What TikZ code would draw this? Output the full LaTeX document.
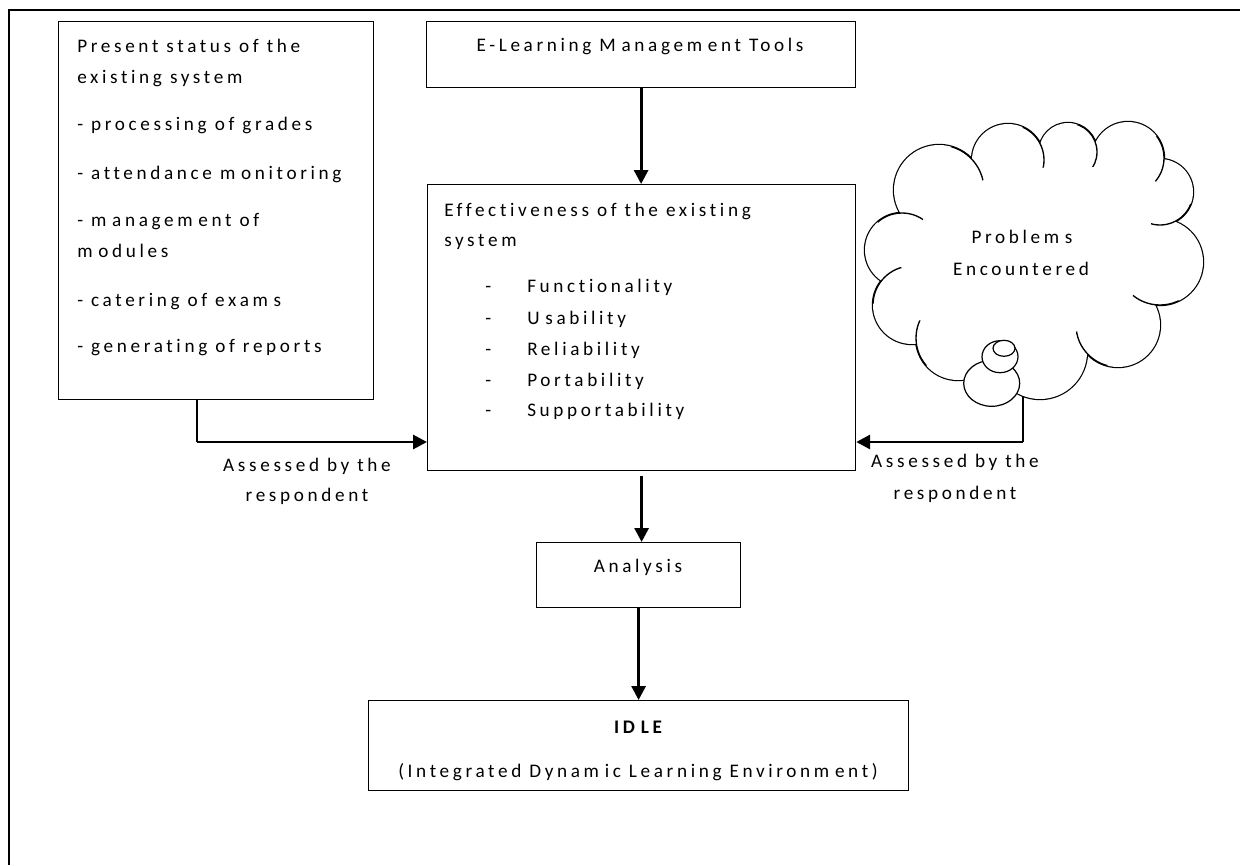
\documentclass[tikz,border=0pt]{standalone}
\usepackage{fontspec}
\setmainfont{Carlito}[LetterSpace=19, Ligatures={NoCommon,NoRare,NoContextual}]
\usetikzlibrary{arrows.meta}
\newcommand\sk{\kern0.3em}
\begin{document}
\begin{tikzpicture}[x=0.75pt,y=-0.75pt,
  box/.style={draw, line width=0.9pt, inner sep=0pt, anchor=north west},
  txt/.style={inner sep=0pt, anchor=base west, font=\fontsize{14.4}{17}\selectfont},
  ctxt/.style={inner sep=0pt, anchor=base, font=\fontsize{14.4}{17}\selectfont},
  flow/.style={line width=2.2pt, -{Triangle[length=10.5pt,width=10.5pt]}},
  thinline/.style={line width=0.9pt},
  puff/.style={line width=1.8pt},
  bubble/.style={draw, fill=white, line width=0.9pt}
]
\useasboundingbox (0,0) rectangle (1240,865);
% outer frame
\draw[line width=2.2pt] (9,865) -- (9,10) -- (1240,10);

% boxes
\node[box, minimum width=236.25pt, minimum height=283.5pt] (status) at (58,21) {};
\node[box, minimum width=321.75pt, minimum height=49.5pt] (elm) at (426,21) {};
\node[box, minimum width=321pt, minimum height=214.5pt] (eff) at (427,184) {};
\node[box, minimum width=153pt, minimum height=48.75pt] (ana) at (536,542) {};
\node[box, minimum width=405pt, minimum height=67.5pt] (idle) at (368,700) {};

% status text
\node[txt] (s1) at (77,52.5) {Present status of the};
\node[txt] (s2) at (77,83.5) {existing system};
\node[txt] (s3) at (77,130.5) {- processing of grades};
\node[txt] (s4) at (77,179.5) {- attendance m\sk onitoring};
\node[txt] (s5) at (77,226.5) {- m\sk anagem\sk ent of};
\node[txt] (s6) at (77,257.5) {m\sk odules};
\node[txt] (s7) at (77,306.5) {- catering of exam\sk s};
\node[txt] (s8) at (77,352.5) {- generating of reports};

% elm text
\node[ctxt] (elmt) at (640,51) {E-Learning M\sk anagem\sk ent Tools};

% effectiveness text
\node[txt] (e1) at (444,216.5) {Effectiveness of the existing};
\node[txt] (e2) at (444,246.5) {system};
\foreach \n/\y/\t in {f1/292.5/Functionality, f2/324.5/U\sk sability, f3/355.5/Reliability, f4/386.5/Portability, f5/416.5/Supportability}{
  \node[txt] (d\n) at (485,\y) {-};
  \node[txt] (\n) at (527,\y) {\t};
}

% analysis / idle text
\node[ctxt] (anat) at (638,572.5) {Analysis};
\node[ctxt, font=\fontsize{14.4}{17}\selectfont\bfseries] (idlet) at (638,733) {ID\sk LE};
\node[ctxt] (idlet2) at (638,777) {(Integrated Dynam\sk ic Learning Environm\sk ent)};

% cloud
\def\puffs{(902,250) circle[radius=37] (912,305) circle[radius=39] (958,338) circle[radius=42]
  (1040,352) circle[radius=47] (1118,325) circle[radius=42] (1160,262) circle[radius=43]
  (1160,192) circle[radius=33] (1128,158) circle[radius=36] (1068,152) circle[radius=29]
  (1008,160) circle[radius=36] (939,190) circle[radius=45]}
\draw[puff] \puffs;
\fill[white] \puffs;
\fill[white] (1040,255) ellipse[x radius=125, y radius=95];
\fill[white] (1095,175) circle[radius=22];
% inner ends of the puffs
\foreach \jx/\jy/\cx/\cy/\rad in {900/213/902/250/37, 972/159/939/190/45, 1040/144/1008/160/36,
  1093/143/1068/152/29, 1164/159/1128/158/36, 1175/222/1160/192/33, 1155/305/1160/262/43,
  1087/353/1118/325/42, 916/344/958/338/42, 881.5/281/912/305/39}{
  \begin{scope}
    \clip (\jx,\jy) circle[radius=24];
    \draw[line width=1pt] (\cx,\cy) circle[radius=\rad];
  \end{scope}
}
\path[bubble] (991.7,383.3) ellipse[x radius=28, y radius=23];
\path[bubble] (1000,356.7) ellipse[x radius=18, y radius=16];
\path[bubble] (1004,348.3) ellipse[x radius=11, y radius=8];
\coordinate (cloud) at (1023,396);
\node[ctxt] (c1) at (1022,243) {Problem\sk s};
\node[ctxt] (c2) at (1021,275) {Encountered};

% connectors
\draw[flow] (elm.south) -- (elm.south |- eff.north);
\coordinate (lc) at (197,442);
\draw[thinline] (status.south -| lc) -- (lc);
\draw[flow] (lc) -- (lc -| eff.west);
\coordinate (rc) at (1023,442);
\draw[thinline] (cloud) -- (rc);
\draw[flow] (rc) -- (rc -| eff.east);
\draw[flow, shorten <=3.75pt] (eff.south) -- (eff.south |- ana.north);
\draw[flow] (ana.south) -- (ana.south |- idle.north);

% labels
\node[ctxt] (la1) at (307,471.5) {Assessed by the};
\node[ctxt] (la2) at (307,501.5) {respondent};
\node[ctxt] (ra1) at (955,467.5) {Assessed by the};
\node[ctxt] (ra2) at (955,499.5) {respondent};
\end{tikzpicture}
\end{document}
